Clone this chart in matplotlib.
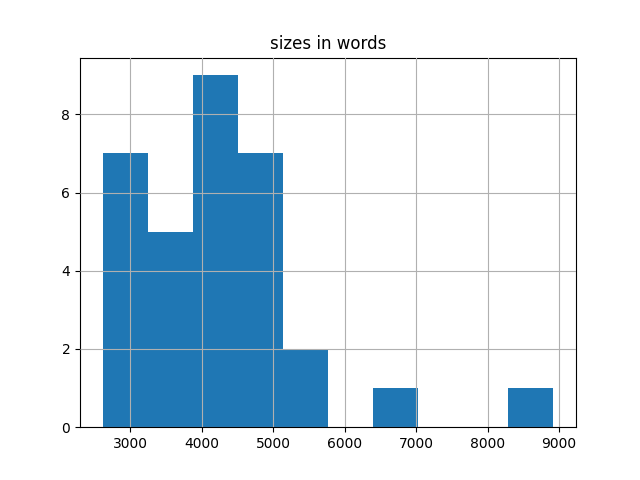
import numpy as np
import matplotlib.pyplot as plt

# histogram of document sizes (words)
bin_start = 2613
bin_end = 8921
counts = [7, 5, 9, 7, 2, 0, 1, 0, 0, 1]


def main():
    edges = np.linspace(bin_start, bin_end, len(counts) + 1)

    fig, ax = plt.subplots(figsize=(6.4, 4.8), dpi=100)
    ax.hist(edges[:-1], bins=edges, weights=counts, color="#1f77b4")
    ax.grid(True)
    ax.set_axisbelow(False)
    ax.set_title("sizes in words")
    fig.savefig("out.png")


if __name__ == "__main__":
    main()
